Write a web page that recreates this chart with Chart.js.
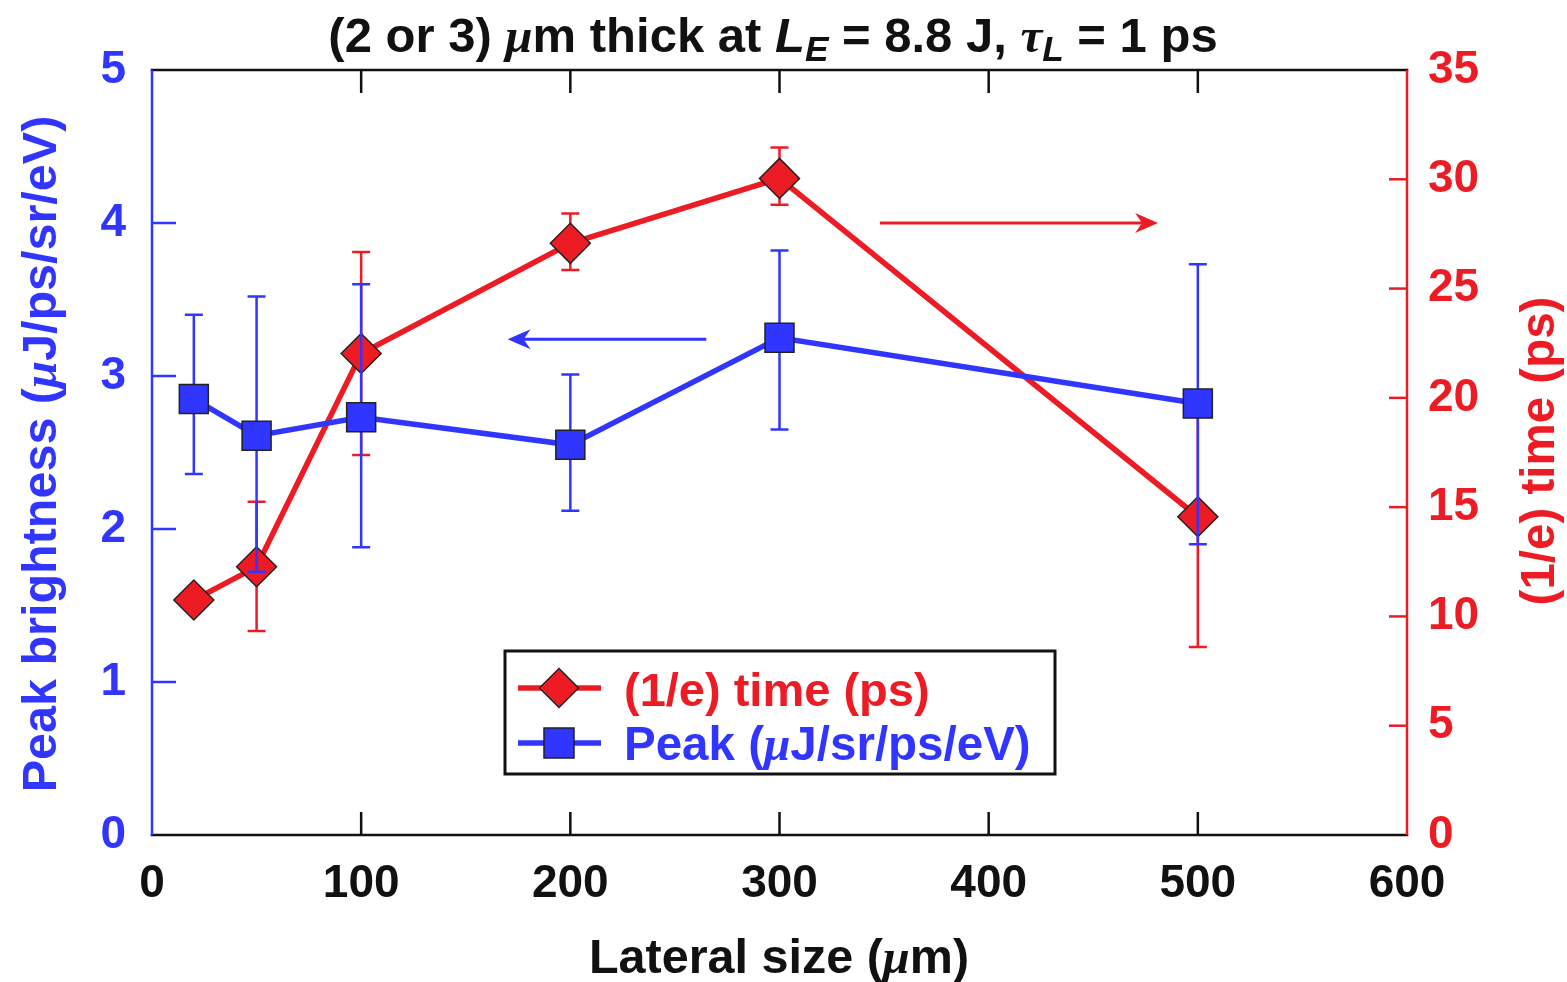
<!DOCTYPE html>
<html><head><meta charset="utf-8">
<script src="https://cdn.jsdelivr.net/npm/chart.js@4.4.1/dist/chart.umd.min.js"></script>
<style>html,body{margin:0;padding:0;background:#fff}#wrap{width:1567px;height:982px;position:relative}</style>
</head><body><div id="wrap"><canvas id="c" width="1567" height="982"></canvas></div>
<script>
// ---------------- data ----------------
const lateralSize   = [20, 50, 100, 200, 300, 500];
const peakBrightness = [2.85, 2.61, 2.73, 2.55, 3.25, 2.82];
const peakErrHigh    = [3.40, 3.52, 3.60, 3.01, 3.82, 3.73];
const peakErrLow     = [2.36, 1.72, 1.88, 2.12, 2.65, 1.90];
const decayTime      = [10.75, 12.27, 22.03, 27.07, 30.04, 14.56];
const decayErrHigh   = [null, 15.25, 26.67, 28.44, 31.45, 20.0];
const decayErrLow    = [null, 9.33, 17.39, 25.85, 28.83, 8.6];

const xTickValues  = [0, 100, 200, 300, 400, 500, 600];
const xTickLabels  = ['0', '100', '200', '300', '400', '500', '600'];
const yTickValues  = [0, 1, 2, 3, 4, 5];
const yTickLabels  = ['0', '1', '2', '3', '4', '5'];
const y2TickValues = [0, 5, 10, 15, 20, 25, 30, 35];
const y2TickLabels = ['0', '5', '10', '15', '20', '25', '30', '35'];

// annotation arrows (data units)
const redArrow  = {x0: 348, x1: 481, y: 28.0, axis: 'y2'};
const blueArrow = {x0: 265, x1: 170, y: 3.24, axis: 'y'};

// ---------------- styles ----------------
const RED = '#ED1C24', BLUE = '#3036FF', BLACK = '#111';
const SANS = '"Liberation Sans", Arial, Helvetica, sans-serif';
const SERIF = '"Liberation Serif", "Times New Roman", serif';

function fontFor(s, size) {
  const sz = s.sub ? size * 0.72 : size;
  const fam = s.greek ? SERIF : SANS;
  return (s.italic ? 'italic ' : '') + 'bold ' + sz + 'px ' + fam;
}
function richWidth(ctx, segs, size) {
  let w = 0;
  for (const s of segs) { ctx.font = fontFor(s, size); w += ctx.measureText(s.t).width; }
  return w;
}
function drawRich(ctx, segs, size, cx, cy, rot, color, align) {
  ctx.save();
  ctx.translate(cx, cy); ctx.rotate(rot || 0);
  ctx.fillStyle = color; ctx.textBaseline = 'alphabetic'; ctx.textAlign = 'left';
  const w = richWidth(ctx, segs, size);
  let x = align === 'left' ? 0 : -w / 2;
  const base = size * 0.36;
  for (const s of segs) {
    ctx.font = fontFor(s, size);
    ctx.fillText(s.t, x, base + (s.sub ? size * 0.2 : 0));
    x += ctx.measureText(s.t).width;
  }
  ctx.restore();
}

const titleSegs = [
  {t: '(2 or 3) '}, {t: 'μ', greek: true, italic: true}, {t: 'm thick at '},
  {t: 'L', italic: true}, {t: 'E', italic: true, sub: true}, {t: ' = 8.8 J, '},
  {t: 'τ', greek: true, italic: true}, {t: 'L', italic: true, sub: true}, {t: ' = 1 ps'}
];
const xTitleSegs = [{t: 'Lateral size ('}, {t: 'μ', greek: true, italic: true}, {t: 'm)'}];
const yTitleSegs = [{t: 'Peak brightness ('}, {t: 'μ', greek: true, italic: true}, {t: 'J/ps/sr/eV)'}];
const y2TitleSegs = [{t: '(1/e) time (ps)'}];
const legendRed = [{t: '(1/e) time (ps)'}];
const legendBlue = [{t: 'Peak ('}, {t: 'μ', greek: true, italic: true}, {t: 'J/sr/ps/eV)'}];

function drawArrow(ctx, x0, y0, x1, y1, color) {
  const ang = Math.atan2(y1 - y0, x1 - x0);
  ctx.save();
  ctx.strokeStyle = color; ctx.fillStyle = color; ctx.lineWidth = 3;
  ctx.beginPath(); ctx.moveTo(x0, y0);
  ctx.lineTo(x1 - 14 * Math.cos(ang), y1 - 14 * Math.sin(ang)); ctx.stroke();
  ctx.translate(x1, y1); ctx.rotate(ang);
  ctx.beginPath(); ctx.moveTo(0, 0); ctx.lineTo(-23, -10); ctx.lineTo(-16, 0); ctx.lineTo(-23, 10); ctx.closePath(); ctx.fill();
  ctx.restore();
}

function drawErrBars(chart, yScale, hi, lo, color) {
  const ctx = chart.ctx, xs = chart.scales.x;
  ctx.save(); ctx.strokeStyle = color; ctx.lineWidth = 2.5;
  for (let i = 0; i < lateralSize.length; i++) {
    if (hi[i] == null || lo[i] == null) continue;
    const px = xs.getPixelForValue(lateralSize[i]);
    const yh = yScale.getPixelForValue(hi[i]), yl = yScale.getPixelForValue(lo[i]);
    ctx.beginPath();
    ctx.moveTo(px, yh); ctx.lineTo(px, yl);
    ctx.moveTo(px - 9, yh); ctx.lineTo(px + 9, yh);
    ctx.moveTo(px - 9, yl); ctx.lineTo(px + 9, yl);
    ctx.stroke();
  }
  ctx.restore();
}

const decorPlugin = {
  id: 'decor',
  beforeDatasetsDraw(chart) {
    const ctx = chart.ctx, a = chart.chartArea, s = chart.scales;
    ctx.save();
    ctx.lineWidth = 2.5;
    ctx.strokeStyle = BLACK;
    for (const v of xTickValues) {
      if (v === 0 || v === 600) continue;
      const px = s.x.getPixelForValue(v);
      ctx.beginPath(); ctx.moveTo(px, a.bottom); ctx.lineTo(px, a.bottom - 23);
      ctx.moveTo(px, a.top); ctx.lineTo(px, a.top + 23); ctx.stroke();
    }
    ctx.strokeStyle = BLUE;
    for (const v of yTickValues) {
      if (v === 0 || v === 5) continue;
      const py = s.y.getPixelForValue(v);
      ctx.beginPath(); ctx.moveTo(a.left, py); ctx.lineTo(a.left + 24, py); ctx.stroke();
    }
    ctx.strokeStyle = RED;
    for (const v of y2TickValues) {
      if (v === 0 || v === 35) continue;
      const py = s.y2.getPixelForValue(v);
      ctx.beginPath(); ctx.moveTo(a.right, py); ctx.lineTo(a.right - 18, py); ctx.stroke();
    }
    ctx.restore();
    drawArrow(ctx, s.x.getPixelForValue(redArrow.x0), s[redArrow.axis].getPixelForValue(redArrow.y),
      s.x.getPixelForValue(redArrow.x1), s[redArrow.axis].getPixelForValue(redArrow.y), RED);
    drawArrow(ctx, s.x.getPixelForValue(blueArrow.x0), s[blueArrow.axis].getPixelForValue(blueArrow.y),
      s.x.getPixelForValue(blueArrow.x1), s[blueArrow.axis].getPixelForValue(blueArrow.y), BLUE);
  },
  beforeDatasetDraw(chart, args) {
    if (args.index === 0) drawErrBars(chart, chart.scales.y, peakErrHigh, peakErrLow, BLUE);
    if (args.index === 1) drawErrBars(chart, chart.scales.y2, decayErrHigh, decayErrLow, RED);
  },
  afterDatasetsDraw(chart) {
    const ctx = chart.ctx, a = chart.chartArea;
    ctx.save();
    ctx.lineWidth = 2.5; ctx.lineCap = 'square';
    ctx.strokeStyle = BLACK;
    ctx.beginPath(); ctx.moveTo(a.left, a.top); ctx.lineTo(a.right, a.top);
    ctx.moveTo(a.left, a.bottom); ctx.lineTo(a.right, a.bottom); ctx.stroke();
    ctx.lineCap = 'butt';
    ctx.strokeStyle = BLUE; ctx.beginPath(); ctx.moveTo(a.left, a.top); ctx.lineTo(a.left, a.bottom); ctx.stroke();
    ctx.strokeStyle = RED; ctx.beginPath(); ctx.moveTo(a.right, a.top); ctx.lineTo(a.right, a.bottom); ctx.stroke();
    ctx.restore();

    drawRich(ctx, titleSegs, 49, 773, 34, 0, BLACK);
    drawRich(ctx, xTitleSegs, 48.5, 779, 956, 0, BLACK);
    drawRich(ctx, yTitleSegs, 48.5, 39, 454, -Math.PI / 2, BLUE);
    drawRich(ctx, y2TitleSegs, 47.5, 1537, 451, -Math.PI / 2, RED);

    ctx.save();
    ctx.fillStyle = '#fff'; ctx.fillRect(505, 651, 550, 123);
    ctx.strokeStyle = BLACK; ctx.lineWidth = 3; ctx.strokeRect(505, 651, 550, 123);
    ctx.strokeStyle = RED; ctx.lineWidth = 5.5;
    ctx.beginPath(); ctx.moveTo(518, 688); ctx.lineTo(601, 688); ctx.stroke();
    ctx.fillStyle = RED; ctx.strokeStyle = '#222'; ctx.lineWidth = 1.5;
    ctx.beginPath(); ctx.moveTo(559, 668.5); ctx.lineTo(578.5, 688); ctx.lineTo(559, 707.5); ctx.lineTo(539.5, 688); ctx.closePath();
    ctx.fill(); ctx.stroke();
    ctx.strokeStyle = BLUE; ctx.lineWidth = 5.5;
    ctx.beginPath(); ctx.moveTo(518, 743); ctx.lineTo(601, 743); ctx.stroke();
    ctx.fillStyle = BLUE; ctx.strokeStyle = '#222'; ctx.lineWidth = 1.5;
    ctx.fillRect(544, 728, 30, 30); ctx.strokeRect(544, 728, 30, 30);
    ctx.restore();
    drawRich(ctx, legendRed, 47, 624, 689, 0, RED, 'left');
    drawRich(ctx, legendBlue, 47.5, 624, 743, 0, BLUE, 'left');
  }
};

const tickFont = {family: SANS, size: 46, weight: 'bold'};

new Chart(document.getElementById('c'), {
  type: 'line',
  data: {
    datasets: [
      {
        label: 'Peak (μJ/sr/ps/eV)',
        data: lateralSize.map((x, i) => ({x, y: peakBrightness[i]})),
        yAxisID: 'y',
        borderColor: BLUE, borderWidth: 5.5, tension: 0,
        pointStyle: 'rect', pointRadius: 20.5, pointHoverRadius: 20.5,
        pointBackgroundColor: BLUE, pointBorderColor: '#222', pointBorderWidth: 1.5,
        clip: false
      },
      {
        label: '(1/e) time (ps)',
        data: lateralSize.map((x, i) => ({x, y: decayTime[i]})),
        yAxisID: 'y2',
        borderColor: RED, borderWidth: 5.5, tension: 0,
        pointStyle: 'rectRot', pointRadius: 20, pointHoverRadius: 20,
        pointBackgroundColor: RED, pointBorderColor: '#222', pointBorderWidth: 1.5,
        clip: false
      }
    ]
  },
  options: {
    responsive: false, animation: false, devicePixelRatio: 1,
    layout: {padding: {top: 70, left: 0, right: 0, bottom: 0}},
    plugins: {legend: {display: false}, tooltip: {enabled: false}, title: {display: false}},
    events: [],
    scales: {
      x: {
        type: 'linear', min: 0, max: 600,
        grid: {display: false, drawTicks: false}, border: {display: false},
        afterBuildTicks: s => { s.ticks = xTickValues.map(v => ({value: v})); },
        afterFit: s => { s.height = 147; },
        ticks: {font: tickFont, color: BLACK, padding: 22, maxRotation: 0, autoSkip: false,
          callback: (v, i) => xTickLabels[i]}
      },
      y: {
        type: 'linear', position: 'left', min: 0, max: 5,
        grid: {display: false, drawTicks: false}, border: {display: false},
        afterBuildTicks: s => { s.ticks = yTickValues.map(v => ({value: v})); },
        afterFit: s => { s.width = 152; },
        ticks: {font: tickFont, color: BLUE, padding: 26, autoSkip: false,
          callback: (v, i) => yTickLabels[i]}
      },
      y2: {
        type: 'linear', position: 'right', min: 0, max: 35,
        grid: {display: false, drawTicks: false}, border: {display: false},
        afterBuildTicks: s => { s.ticks = y2TickValues.map(v => ({value: v})); },
        afterFit: s => { s.width = 160; },
        ticks: {font: tickFont, color: RED, padding: 21, autoSkip: false,
          callback: (v, i) => y2TickLabels[i]}
      }
    }
  },
  plugins: [decorPlugin]
});
</script>
</body></html>
